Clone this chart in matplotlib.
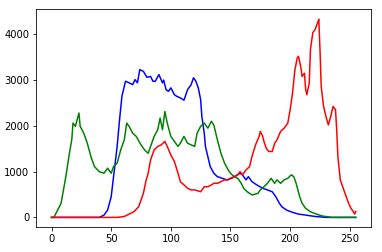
import matplotlib
matplotlib.use("Agg")
import matplotlib.pyplot as plt

blue_x = [0, 40, 44, 47, 50, 52, 55, 57, 59, 62, 65, 68, 70, 72, 74, 77, 80, 83, 85, 87,
          90, 93, 94, 96, 98, 100, 103, 105, 108, 111, 114, 117, 119, 121, 123, 125, 126, 128, 129, 131,
          133, 136, 139, 143, 147, 151, 156, 158, 160, 163, 165, 168, 172, 177, 181, 185, 188, 191, 193, 197,
          202, 207, 213, 221, 230, 255]
blue_y = [0, 0, 50, 160, 450, 890, 1550, 2130, 2645, 2975, 2940, 2900, 3010, 2940, 3230, 3190, 3060, 3080, 2975, 2975,
          3120, 2940, 3000, 2790, 2755, 2830, 2680, 2645, 2610, 2560, 2790, 2900, 3050, 2975, 2830, 2570, 2205, 1840, 1550, 1330,
          1110, 965, 890, 855, 820, 855, 930, 965, 930, 820, 890, 780, 710, 636, 600, 560, 450, 307, 232, 160,
          110, 72, 50, 20, 0, 0]

green_x = [0, 2, 8, 12, 15, 17, 18, 20, 23, 24, 27, 30, 33, 36, 40, 44, 47, 50, 52, 55,
           58, 61, 63, 65, 68, 71, 75, 78, 81, 83, 86, 89, 91, 93, 95, 97, 100, 103, 106, 108,
           111, 114, 117, 120, 122, 125, 128, 131, 134, 136, 139, 142, 145, 148, 150, 153, 156, 159, 161, 164,
           168, 173, 175, 178, 181, 184, 187, 189, 192, 195, 198, 201, 203, 205, 208, 210, 213, 217, 222, 227,
           235, 255]
green_y = [0, 0, 307, 890, 1400, 1700, 2060, 1990, 2280, 1990, 1840, 1620, 1330, 1110, 1000, 965, 1075, 965, 1110, 1185,
           1475, 1695, 2060, 1990, 1840, 1770, 1585, 1475, 1400, 1550, 1770, 1915, 2170, 1915, 2315, 2060, 1770, 1660, 1550, 1620,
           1770, 1620, 1585, 1550, 1840, 1990, 2060, 1950, 2100, 2020, 1695, 1400, 1185, 1040, 965, 890, 855, 745, 636, 560,
           490, 525, 600, 670, 745, 855, 745, 820, 745, 820, 855, 930, 890, 745, 450, 307, 197, 123, 72, 30,
           0, 0]

red_x = [0, 55, 61, 65, 69, 73, 77, 79, 81, 83, 86, 89, 92, 95, 97, 100, 103, 106, 108, 111,
         114, 117, 120, 122, 125, 128, 131, 134, 136, 139, 142, 145, 148, 150, 153, 156, 158, 160, 163, 166,
         168, 171, 174, 175, 177, 178, 180, 182, 185, 187, 189, 192, 195, 198, 200, 202, 204, 206, 207, 209,
         210, 212, 213, 214, 216, 217, 219, 221, 223, 224, 225, 226, 228, 230, 232, 234, 236, 238, 239, 240,
         242, 244, 247, 249, 251, 253, 254, 255]
red_y = [0, 0, 20, 72, 123, 232, 526, 780, 965, 1255, 1475, 1550, 1585, 1660, 1550, 1365, 1220, 965, 780, 710,
         636, 600, 600, 585, 560, 670, 670, 710, 745, 745, 780, 820, 820, 855, 890, 930, 1000, 930, 1035, 1110,
         1330, 1585, 1770, 1880, 1770, 1660, 1510, 1440, 1440, 1620, 1695, 1880, 1950, 2060, 2350, 2720, 3230, 3490, 3520, 3270,
         3080, 3150, 2790, 2680, 2940, 3670, 4035, 4110, 4255, 4330, 3670, 2865, 2425, 2205, 2020, 2205, 2425, 2350, 1915, 1330,
         820, 670, 450, 307, 197, 123, 72, 130]

W, H = 382, 252
fig = plt.figure(figsize=(W / 72, H / 72), dpi=72)
ax = fig.add_axes([36.3 / W, (H - 227.3) / H, 334.7 / W, 218 / H])
ax.plot(blue_x, blue_y, color='b', lw=1.5)
ax.plot(green_x, green_y, color='g', lw=1.5)
ax.plot(red_x, red_y, color='r', lw=1.5)
ax.set_xticks([0, 50, 100, 150, 200, 250])
ax.set_yticks([0, 1000, 2000, 3000, 4000])
fig.savefig("out.png", dpi=72)
